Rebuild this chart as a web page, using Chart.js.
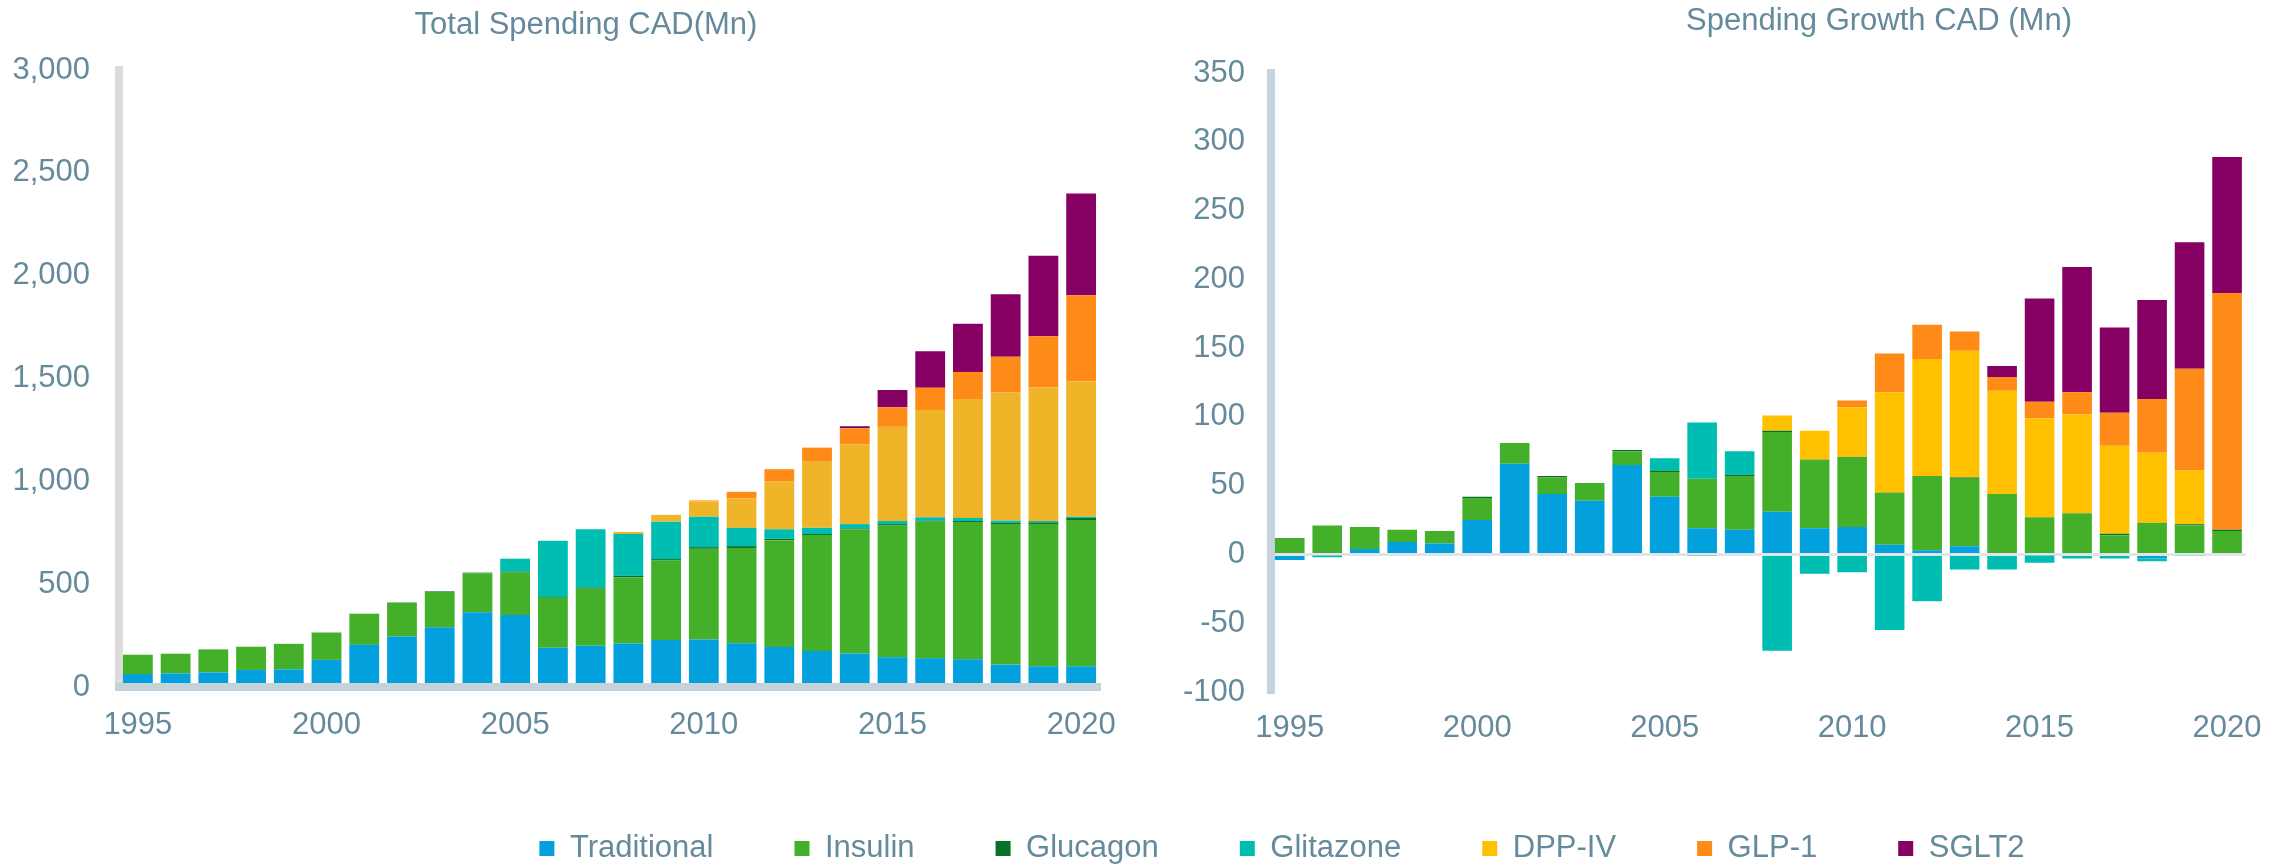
<!DOCTYPE html>
<html>
<head>
<meta charset="utf-8">
<script src="https://cdn.jsdelivr.net/npm/chart.js@4.4.1/dist/chart.umd.min.js"></script>
<style>
  html, body { margin: 0; padding: 0; background: #fff; overflow: hidden; width: 2280px; height: 865px; }
  canvas { position: absolute; }
  #total { left: 0; top: 0; }
  #growth { left: 1150px; top: 0; }
  #legend { left: 0; top: 600px; }
</style>
</head>
<body>
<canvas id="total" width="1150" height="790"></canvas>
<canvas id="growth" width="1130" height="790"></canvas>
<canvas id="legend" width="2280" height="300"></canvas>
<script>
// years on the x axis
const years = [1995, 1996, 1997, 1998, 1999, 2000, 2001, 2002, 2003, 2004, 2005, 2006, 2007,
               2008, 2009, 2010, 2011, 2012, 2013, 2014, 2015, 2016, 2017, 2018, 2019, 2020];
const seriesNames = ['Traditional', 'Insulin', 'Glucagon', 'Glitazone', 'DPP-IV', 'GLP-1', 'SGLT2'];

// Total Spending CAD(Mn)
const totalTraditional = [63, 66, 71, 83, 86, 132, 205, 246, 290, 363, 350, 191, 201, 211, 228, 231, 213, 195, 175, 163, 145, 140, 135, 109, 101, 101];
const totalInsulin     = [94, 96, 112, 113, 124, 132, 150, 163, 172, 190, 206, 243, 277, 322, 387, 441, 463, 519, 564, 603, 640, 664, 667, 683, 691, 711];
const totalGlucagon    = [0, 0, 0, 0, 0, 1, 1, 2, 3, 3, 5, 4, 5, 8, 7, 8, 9, 7, 5, 5, 7, 5, 5, 7, 8, 10];
const totalGlitazone   = [0, 0, 0, 0, 0, 0, 0, 0, 0, 0, 63, 273, 284, 203, 182, 148, 89, 46, 30, 21, 15, 16, 15, 10, 7, 6];
const totalDPP4        = [0, 0, 0, 0, 0, 0, 0, 0, 0, 0, 0, 0, 0, 10, 33, 75, 143, 233, 325, 388, 458, 522, 578, 623, 651, 659];
const totalGLP1        = [0, 0, 0, 0, 0, 0, 0, 0, 0, 0, 0, 0, 0, 0, 0, 4, 32, 59, 65, 78, 95, 108, 132, 174, 247, 418];
const totalSGLT2       = [0, 0, 0, 0, 0, 0, 0, 0, 0, 0, 0, 0, 0, 0, 0, 0, 0, 0, 0, 10, 84, 177, 234, 304, 392, 495];

// Spending Growth CAD (Mn)
const growthTraditional = [-4, -1, 4, 9, 8, 25, 66, 44, 39, 65, 42, 19, 18, 31, 19, 20, 7, 3, 6, 1, -1, 1, 1, -3, 0, 0];
const growthInsulin     = [12, 21, 16, 9, 9, 16, 15, 12, 13, 10, 18, 36, 39, 58, 50, 51, 38, 54, 49, 43, 27, 29, 13, 23, 21, 17];
const growthGlucagon    = [0, 0, 0, 0, 0, 1, 0, 1, 0, 1, 1, -1, 1, 1, 0, 0, 0, 0, 1, 0, 0, 0, 1, 0, 1, 1];
const growthGlitazone   = [0, -1, 0, 0, 0, 0, 0, 0, 0, 0, 9, 41, 17, -70, -14, -13, -55, -34, -11, -11, -5, -3, -3, -2, -1, 0];
const growthDPP4        = [0, 0, 0, 0, 0, 0, 0, 0, 0, 0, 0, 0, 0, 11, 21, 36, 73, 85, 92, 75, 72, 72, 64, 51, 39, 0];
const growthGLP1        = [0, 0, 0, 0, 0, 0, 0, 0, 0, 0, 0, 0, 0, 0, 0, 5, 28, 25, 14, 10, 12, 16, 24, 39, 74, 172];
const growthSGLT2       = [0, 0, 0, 0, 0, 0, 0, 0, 0, 0, 0, 0, 0, 0, 0, 0, 0, 0, 0, 8, 75, 91, 62, 72, 92, 99];

const colors = ['#02a0dd', '#44b02a', '#05722b', '#00bdb2', '#ffc000', '#fe8a18', '#850062'];
const totalColors = ['#02a0dd', '#44b02a', '#05722b', '#00bdb2', '#f0b428', '#fe8a18', '#850062'];

const FONT = '"Liberation Sans", Arial, sans-serif';
const TEXT = '#658a9c';

// draws a chart title at a fixed spot
const fixedTitle = {
  id: 'fixedTitle',
  afterDraw(chart, args, opts) {
    const ctx = chart.ctx;
    ctx.save();
    ctx.font = '31px ' + FONT;
    ctx.fillStyle = TEXT;
    ctx.textAlign = 'center';
    ctx.textBaseline = 'middle';
    ctx.fillText(opts.text, opts.x, opts.y);
    ctx.restore();
  }
};

const yearTick = (v, i) => (years[i] % 5 === 0 ? String(years[i]) : '');

function makeSets(list, cols) {
  return list.map((d, i) => ({
    label: seriesNames[i],
    data: d,
    backgroundColor: cols[i],
    borderWidth: 0,
    categoryPercentage: 1,
    barPercentage: 0.79
  }));
}

new Chart(document.getElementById('total'), {
  type: 'bar',
  data: {
    labels: years,
    datasets: makeSets([totalTraditional, totalInsulin, totalGlucagon, totalGlitazone, totalDPP4, totalGLP1, totalSGLT2], totalColors)
  },
  options: {
    responsive: false,
    animation: false,
    devicePixelRatio: 1,
    layout: { padding: { left: 0, right: 50, top: 70, bottom: 47 } },
    plugins: {
      legend: { display: false },
      tooltip: { enabled: false },
      fixedTitle: { text: 'Total Spending CAD(Mn)', x: 586, y: 25 }
    },
    scales: {
      x: {
        stacked: true,
        grid: { display: false, drawTicks: false },
        border: { display: true, color: '#c5d2d9', width: 8, z: 1 },
        ticks: { autoSkip: false, maxRotation: 0, padding: 20, color: TEXT, font: { family: FONT, size: 31 }, callback: yearTick },
        afterFit: s => { s.height = 56; }
      },
      y: {
        stacked: true,
        min: 0,
        max: 3000,
        grid: { display: false, drawTicks: false },
        border: { color: '#dcdcdc', width: 8 },
        ticks: { stepSize: 500, padding: 29, color: TEXT, font: { family: FONT, size: 31 }, callback: v => v.toLocaleString('en-US') },
        afterFit: s => { s.width = 119; }
      }
    }
  },
  plugins: [fixedTitle]
});

new Chart(document.getElementById('growth'), {
  type: 'bar',
  data: {
    labels: years,
    datasets: makeSets([growthTraditional, growthInsulin, growthGlucagon, growthGlitazone, growthDPP4, growthGLP1, growthSGLT2], colors)
  },
  options: {
    responsive: false,
    animation: false,
    devicePixelRatio: 1,
    layout: { padding: { left: 0, right: 24, top: 73, bottom: 44 } },
    plugins: {
      legend: { display: false },
      tooltip: { enabled: false },
      fixedTitle: { text: 'Spending Growth CAD (Mn)', x: 729, y: 21 }
    },
    scales: {
      x: {
        stacked: true,
        grid: { display: false, drawTicks: false },
        border: { display: false },
        ticks: { autoSkip: false, maxRotation: 0, padding: 18, color: TEXT, font: { family: FONT, size: 31 }, callback: yearTick },
        afterFit: s => { s.height = 54; }
      },
      y: {
        stacked: true,
        min: -100,
        max: 350,
        grid: {
          drawTicks: false,
          lineWidth: 3,
          color: c => (c.tick && c.tick.value === 0 ? '#dfe5e8' : 'rgba(0,0,0,0)')
        },
        border: { color: '#c5d4dc', width: 8 },
        ticks: { stepSize: 50, padding: 26, color: TEXT, font: { family: FONT, size: 31 } },
        afterFit: s => { s.width = 121; }
      }
    }
  },
  plugins: [fixedTitle]
});

// shared legend under both charts
new Chart(document.getElementById('legend'), {
  type: 'bar',
  data: {
    labels: [''],
    datasets: seriesNames.map((n, i) => ({ label: n, data: [0], backgroundColor: colors[i], borderWidth: 0 }))
  },
  options: {
    responsive: false,
    animation: false,
    devicePixelRatio: 1,
    layout: { padding: { left: 284, right: 0, top: 152, bottom: 0 } },
    plugins: {
      tooltip: { enabled: false },
      legend: {
        position: 'top',
        align: 'center',
        maxHeight: 200,
        labels: { boxWidth: 15, boxHeight: 15, padding: 81, color: TEXT, font: { family: FONT, size: 31 } }
      }
    },
    scales: { x: { display: false }, y: { display: false } }
  }
});
</script>
</body>
</html>
